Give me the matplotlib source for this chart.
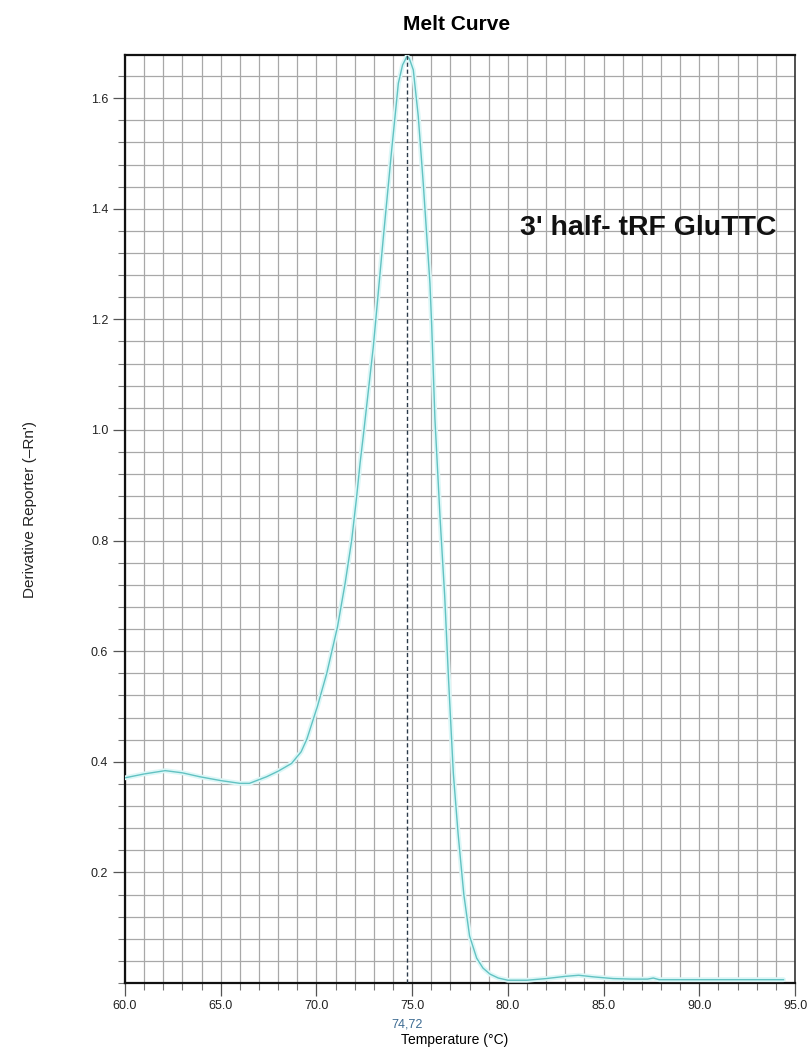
import numpy as np
import matplotlib
matplotlib.use('Agg')
import matplotlib.pyplot as plt
from matplotlib.ticker import MultipleLocator, FormatStrFormatter
import matplotlib.transforms as mtransforms

plt.rcParams['font.family'] = ['Liberation Sans', 'DejaVu Sans']

# melt curve: temperature (C) vs derivative reporter (-Rn')
temp = [60.0, 61.0, 62.1, 63.0, 63.9, 65.0, 66.0, 66.5, 67.4, 68.0, 68.7,
        69.2, 69.5, 70.05, 70.54, 71.1, 71.5, 71.84, 72.1, 72.28, 72.45,
        72.97, 73.15, 73.5, 73.93, 74.28, 74.5, 74.72, 74.85, 75.06, 75.32,
        75.58, 75.93, 76.02, 76.19, 76.46, 76.7, 76.9, 77.15, 77.4, 77.7,
        78.0, 78.37, 78.7, 79.07, 79.5, 80.0, 81.0, 82.0, 83.0, 83.7, 84.5,
        85.5, 86.5, 87.3, 87.6, 87.9, 89.0, 91.0, 93.0, 94.4]
deriv = [0.371, 0.378, 0.384, 0.380, 0.373, 0.366, 0.361, 0.361, 0.373, 0.383, 0.397,
         0.418, 0.441, 0.500, 0.560, 0.644, 0.723, 0.800, 0.879, 0.940, 0.990,
         1.150, 1.218, 1.350, 1.506, 1.627, 1.660, 1.675, 1.672, 1.651, 1.567,
         1.446, 1.265, 1.190, 1.020, 0.840, 0.700, 0.550, 0.380, 0.270, 0.160,
         0.085, 0.045, 0.027, 0.016, 0.009, 0.005, 0.005, 0.008, 0.012, 0.014, 0.011,
         0.008, 0.007, 0.007, 0.009, 0.006, 0.006, 0.006, 0.006, 0.006]

tm_value = 74.72
y_ticks = [0.2, 0.4, 0.6, 0.8, 1.0, 1.2, 1.4, 1.6]
x_ticks = [60, 65, 70, 75, 80, 85, 90, 95]


def plot_melt():
    fig = plt.figure(figsize=(8.11, 10.53), dpi=100)
    ax = fig.add_axes([125 / 811, 1 - 983 / 1053, 670 / 811, 928 / 1053])

    ### grid ###
    ax.set_xlim(60, 95)
    ax.set_ylim(0, 1.678)
    ax.set_xticks(x_ticks)
    ax.xaxis.set_minor_locator(MultipleLocator(1))
    ax.set_yticks(y_ticks)
    ax.yaxis.set_minor_locator(MultipleLocator(0.04))
    ax.xaxis.set_major_formatter(FormatStrFormatter('%.1f'))
    ax.yaxis.set_major_formatter(FormatStrFormatter('%.1f'))
    ax.grid(which='both', color='#a8a8a8', linewidth=0.9)
    ax.set_axisbelow(True)
    ax.tick_params(which='major', direction='out', length=9, width=0.9,
                   color='#555555', labelsize=9, labelcolor='#222222', pad=3)
    ax.tick_params(which='minor', direction='out', length=5, width=0.8,
                   color='#777777')
    for side in ['left', 'bottom', 'top']:
        ax.spines[side].set_linewidth(1.6)
        ax.spines[side].set_color('#111111')
    ax.spines['right'].set_linewidth(1.2)
    ax.spines['right'].set_color('#333333')

    ### curve ###
    ax.plot(temp, deriv, color='#dcf7f7', linewidth=3.5, solid_capstyle='round', zorder=3)
    ax.plot(temp, deriv, color='#62c2c2', linewidth=1.0, zorder=4)

    ### Tm marker ###
    ax.axvline(tm_value, color='#2b3a4a', linewidth=1.0, linestyle=(0, (3, 2)), zorder=5)
    trans = mtransforms.blended_transform_factory(ax.transData, ax.transAxes)
    ax.text(tm_value, -0.045, '74,72', transform=trans, ha='center', va='center',
            fontsize=9, color='#3d6b92')

    ax.text(80.64, 1.353, "3' half- tRF GluTTC", fontsize=20.5, fontweight='bold',
            ha='left', va='baseline', color='#111111', zorder=6)

    ### labels ###
    fig.text(457 / 811, 1 - 25 / 1053, 'Melt Curve', fontsize=15, fontweight='bold',
             ha='center', va='center')
    fig.text(455 / 811, 1 - 1040 / 1053, 'Temperature (\u00b0C)', fontsize=10,
             ha='center', va='center')
    fig.text(30 / 811, 1 - 510 / 1053, "Derivative Reporter (\u2013Rn')", fontsize=11,
             rotation=90, ha='center', va='center', color='#222222')

    fig.savefig('out.png', dpi=100, facecolor='white')


if __name__ == "__main__":
    plot_melt()
